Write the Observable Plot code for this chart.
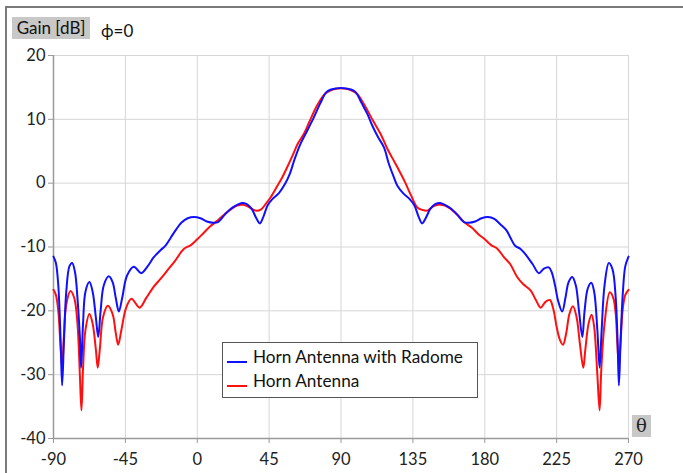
<!DOCTYPE html>
<html>
<head>
<meta charset="utf-8">
<script src="https://cdn.jsdelivr.net/npm/d3@7"></script>
<script src="https://cdn.jsdelivr.net/npm/@observablehq/plot@0.6"></script>
<style>
  html, body { margin: 0; padding: 0; background: #fff; }
  #wrap { position: relative; width: 683px; height: 473px; overflow: hidden; font-family: Lato, "Open Sans", sans-serif; }
  #wrap svg { position: absolute; left: 0; top: 0; }
  .frameTop { position: absolute; left: 5px; top: 6px; width: 678px; height: 2px; background: #7a7a7a; }
  .frameLeft { position: absolute; left: 5px; top: 6px; width: 2px; height: 467px; background: #7a7a7a; }
  .ylab { position: absolute; left: 12px; top: 17px; width: 78px; height: 22px; background: #c8c8c8; font-size: 17px; line-height: 22px; text-align: center; color: #111; }
  .phi { position: absolute; left: 101px; top: 20px; font-size: 17px; color: #111; }
  .xlab { position: absolute; left: 632px; top: 415px; width: 19px; height: 22px; background: #c8c8c8; font-family: "DejaVu Serif", "Liberation Serif", serif; font-size: 18px; line-height: 22px; text-align: center; color: #222; }
  .legend { position: absolute; left: 222px; top: 342px; width: 256px; height: 56px; border: 1px solid #555; background: #fff; box-sizing: border-box; font-size: 17.2px; color: #111; }
  .legend .row { position: absolute; left: 4px; height: 22px; line-height: 22px; white-space: nowrap; }
  .legend .sw { display: inline-block; width: 20px; height: 2px; vertical-align: middle; margin-right: 6px; position: relative; top: 3px; }
</style>
</head>
<body>
<div id="wrap"></div>
<script>
// ---- data ----
const seriesNames = ["Horn Antenna with Radome", "Horn Antenna"];
const seriesColors = ["#1010ff", "#ff1010"];
const xTicks = [-90, -45, 0, 45, 90, 135, 180, 225, 270];
const yTicks = [-40, -30, -20, -10, 0, 10, 20];

const thetaRadome = [-90,-88.5,-87,-85.5,-84.6,-83.5,-82,-80,-78.3,-76.5,-75,-73.5,-72.7,-71.5,-70,-67.5,-65.5,-63.5,-62,-60.5,-58.5,-55.4,-53,-51,-49.1,-47,-44,-39.7,-35.1,-31,-27.2,-23,-19.9,-16.5,-13.6,-10,-6,-2,2,6,10,13,17,21,25,28,31,34,37,39.2,41.5,44,47,51,55,58,61,64.7,69,73,77,81,84,87,90,93,96,99,103,106.4,110,113,116.9,120,123,125.3,129,133,136,138.5,140.8,143,146,149,152,155,159,163,167,170,174,178,182,186,190,193.6,196,199,202.4,206,210,213.9,217,220.1,222,224,226,228.5,230.5,232.5,234.8,237,239,241.1,242.5,244.5,246.7,248.5,250.5,251.9,253.2,255,257.7,260,262,263.2,264,265,266.5,268,270];
const gainRadome = [-11.5,-12.5,-16,-25,-31.7,-25,-17,-13,-12.5,-14,-18,-24,-28.9,-22,-17,-15.5,-17,-21,-24.1,-20,-16,-14.6,-15.5,-18,-20.1,-18,-14.5,-13.1,-14.1,-13,-11.6,-10.5,-9.8,-8.5,-7.4,-6.2,-5.5,-5.3,-5.5,-6.0,-6.2,-6.1,-5.0,-4.0,-3.4,-3.1,-3.3,-4.0,-5.5,-6.3,-5.2,-3.5,-2.5,-1.6,-0.1,1.5,3.8,6.2,8.3,10.3,12.5,14.3,14.7,14.85,14.9,14.85,14.7,14.3,12.5,10.9,8.8,7.3,5.6,3.0,1.0,-0.4,-1.6,-2.5,-3.5,-5.2,-6.3,-5.5,-4.0,-3.3,-3.1,-3.4,-4.0,-5.0,-6.1,-6.2,-6.0,-5.5,-5.3,-5.6,-6.5,-7.4,-8.5,-9.8,-10.3,-11.3,-12.7,-14.1,-13.4,-13.2,-14,-16,-18.5,-20.1,-18,-15.5,-14.7,-16,-20,-24.1,-20,-16.5,-15.6,-17,-23,-28.9,-23,-16,-12.5,-13.5,-18,-25,-31.7,-25,-17,-13,-11.5];

const thetaHorn = [-90,-88.5,-87,-85.5,-84.6,-83.5,-82,-79.4,-77,-75,-73.5,-72.5,-71.5,-70,-67.5,-65.5,-63.5,-62.3,-61,-59,-56,-53,-51,-49.5,-47.5,-44.5,-41.2,-36.1,-32,-27.2,-23,-18.8,-14,-8.4,-4,0,4,8,12.5,17,21,25,29,32,36.5,40,43,46,50,53,56.3,60,63,66.7,70,75.1,80,84,87,90,93,96,100,104.3,110,114.8,119,122,125.3,130,134,137.8,141,144,148,151,155,159,163,167,172,176,180,184,188,192,196,200.3,204,208.7,212,215,218,220.8,223,225,227,229,231,233,235.2,237.5,239.5,241.7,243,245,246.9,248.5,250.5,251.9,253,255,258.3,260.5,262,263,264,265,266.5,268,270];
const gainHorn = [-16.7,-17.5,-20,-26,-28.9,-24,-19,-16.9,-18,-22,-30,-35.6,-29,-23,-20.5,-22,-26,-28.9,-26,-21,-19.2,-20.5,-23.5,-25.3,-23,-19.5,-18.1,-19.5,-18,-16.2,-15,-13.7,-12.2,-10.3,-9.7,-8.8,-7.8,-6.8,-5.9,-4.9,-4.1,-3.5,-3.4,-3.7,-4.3,-4.1,-3.2,-2.2,-0.5,0.8,2.5,4.5,6.2,7.7,9.5,12.2,14,14.6,14.8,14.85,14.8,14.6,14,12.4,9.8,7.7,5.4,4,2.5,0.2,-2.0,-3.8,-4.2,-4.3,-3.6,-3.4,-3.5,-4.1,-5.0,-6.1,-7.0,-8.0,-8.8,-9.7,-10.3,-11.6,-12.7,-14.7,-15.8,-16.8,-18.3,-19.5,-18.6,-18.3,-19.8,-22.5,-24.5,-25.3,-23.5,-20.5,-19.3,-21,-25,-28.9,-26,-22,-20.6,-22.5,-30,-35.6,-29,-22,-17.1,-18,-20.5,-25,-28.9,-25,-19.5,-17.5,-16.7];

const radome = thetaRadome.map((t, i) => ({theta: t, gain: gainRadome[i]}));
const horn = thetaHorn.map((t, i) => ({theta: t, gain: gainHorn[i]}));

const fmt = d => String(d);

const chart = Plot.plot({
  width: 683,
  height: 473,
  marginLeft: 53,
  marginRight: 55,
  marginTop: 55,
  marginBottom: 35,
  style: {fontFamily: "Lato, 'Open Sans', sans-serif", fontSize: "16.5px", color: "#222", background: "transparent"},
  x: {domain: [-90, 270], ticks: xTicks},
  y: {domain: [-40, 20], ticks: yTicks},
  marks: [
    Plot.gridX(xTicks, {stroke: "#d6d6d6", strokeOpacity: 1, strokeWidth: 1}),
    Plot.gridY(yTicks, {stroke: "#d6d6d6", strokeOpacity: 1, strokeWidth: 1}),
    Plot.ruleX([-90], {stroke: "#9a9a9a", strokeWidth: 1.5}),
    Plot.ruleY([-40], {stroke: "#9a9a9a", strokeWidth: 1.5}),
    Plot.axisX(xTicks, {tickSize: 5, tickPadding: 10, stroke: "#9a9a9a", fill: "#222", fontSize: 16.5, label: null, tickFormat: fmt}),
    Plot.axisY(yTicks, {tickSize: 5, tickPadding: 3, stroke: "#9a9a9a", fill: "#222", fontSize: 16.5, label: null, tickFormat: fmt}),
    Plot.line(horn, {x: "theta", y: "gain", stroke: seriesColors[1], strokeWidth: 2, curve: "catmull-rom"}),
    Plot.line(radome, {x: "theta", y: "gain", stroke: seriesColors[0], strokeWidth: 2, curve: "catmull-rom"})
  ]
});

const wrap = document.getElementById("wrap");
wrap.appendChild(chart);

function addDiv(cls, html) {
  const d = document.createElement("div");
  d.className = cls;
  if (html != null) d.innerHTML = html;
  wrap.appendChild(d);
  return d;
}
addDiv("frameTop");
addDiv("frameLeft");
addDiv("ylab", "Gain [dB]");
addDiv("phi", "ϕ=0");
addDiv("xlab", "θ");
const lg = addDiv("legend");
seriesNames.forEach((name, i) => {
  const r = document.createElement("div");
  r.className = "row";
  r.style.top = (3 + i * 24) + "px";
  r.innerHTML = `<span class="sw" style="background:${seriesColors[i]}"></span>${name}`;
  lg.appendChild(r);
});
</script>
</body>
</html>
